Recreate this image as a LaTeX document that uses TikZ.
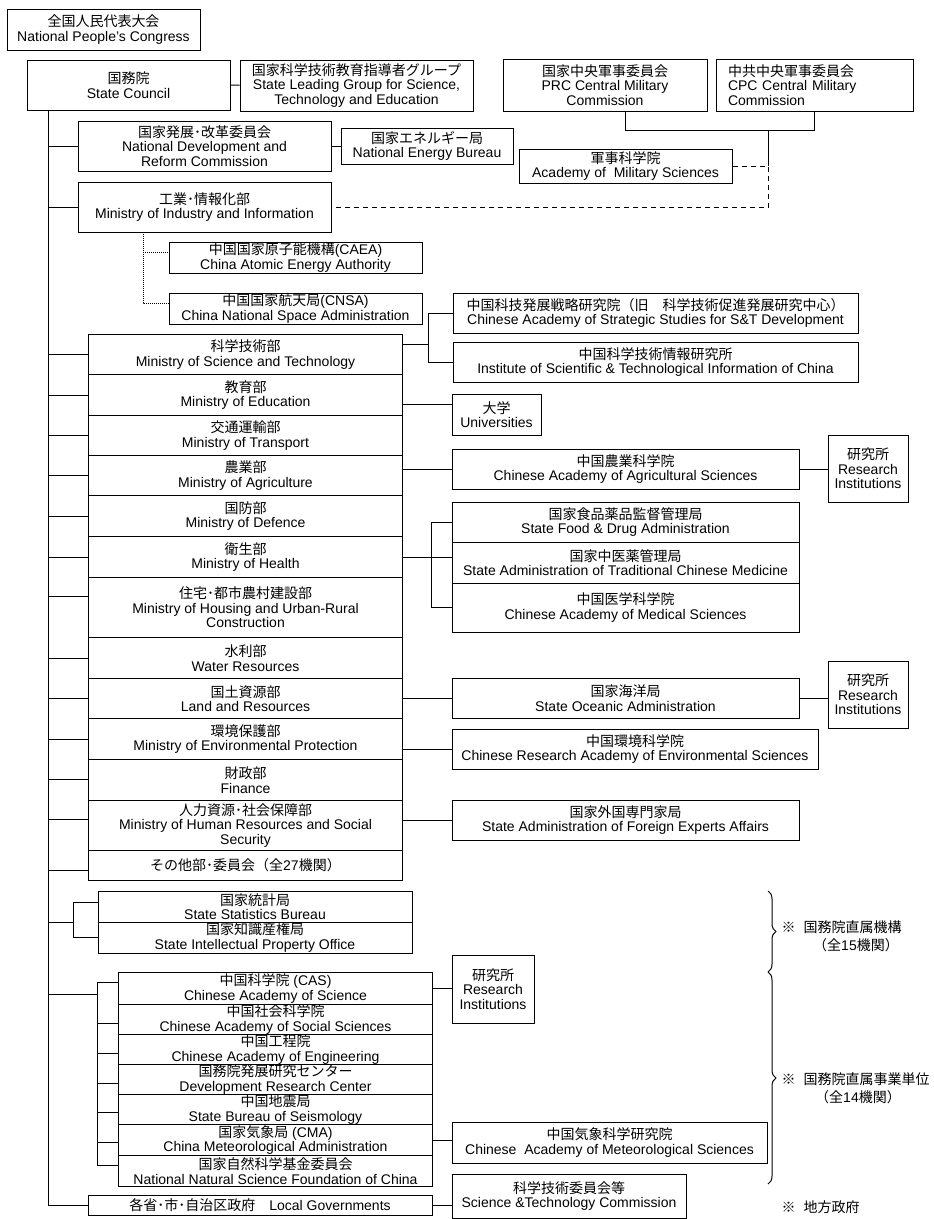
\documentclass[tikz,border=0pt]{standalone}
\usepackage{fontspec}
\setmainfont{Liberation Sans}
\newfontfamily\jpfont{Noto Sans CJK JP}
\newcommand{\jp}[1]{{\jpfont #1}}
\usetikzlibrary{calc,decorations.pathreplacing}

\begin{document}
\begin{tikzpicture}[x=1pt,y=1pt,yscale=-1,xscale=1,line width=1pt,
  box/.style={draw,line width=1pt,inner sep=0pt,align=center,font=\fontsize{14}{14.5}\selectfont},
  row/.style={box,anchor=north west,minimum width=314},
  note/.style={inner sep=0pt,font=\fontsize{14}{14.5}\selectfont},
  dashline/.style={dash pattern=on 5pt off 4pt},
  dotline/.style={dash pattern=on 1pt off 1pt}]
\useasboundingbox (0,0) rectangle (934,1219);

%Shape: Rectangle (top)
\node [box,minimum width=193,minimum height=41] (npc) at (103.5,29.5) {\jp{全国人民代表大会}\\National People’s Congress};
\node [box,minimum width=203,minimum height=50] (sc) at (128.5,85) {\jp{国務院}\\State Council};
\node [box,minimum width=233,minimum height=51] (slg) at (356.5,85.5) {\jp{国家科学技術教育指導者グループ}\\State Leading Group for Science,\\Technology and Education};
\node [box,minimum width=204,minimum height=52] (prc) at (605,85) {\jp{国家中央軍事委員会}\\PRC Central Military\\Commission};
\node [box,align=left,text width=173pt,inner xsep=12pt,minimum height=52] (cpc) at (814.5,85) {\jp{中共中央軍事委員会}\\CPC Central Military\\Commission};
\node [box,minimum width=253,minimum height=50] (ndrc) at (204.5,146) {\jp{国家発展･改革委員会}\\National Development and\\Reform Commission};
\node [box,minimum width=172,minimum height=36] (neb) at (427,146) {\jp{国家エネルギー局}\\National Energy Bureau};
\node [box,minimum width=213,minimum height=34] (ams) at (625.5,166) {\jp{軍事科学院}\\Academy of~ Military Sciences};
\node [box,minimum width=253,minimum height=50] (miit) at (204.5,207) {\jp{工業･情報化部}\\Ministry of Industry and Information};
\node [box,minimum width=253,minimum height=31] (caea) at (295.5,257.5) {\jp{中国国家原子能機構}(CAEA)\\China Atomic Energy Authority};
\node [box,minimum width=253,minimum height=31] (cnsa) at (295.5,308.5) {\jp{中国国家航天局}(CNSA)\\China National Space Administration};
\node [box,minimum width=405,minimum height=40] (casss) at (655.5,313) {\jp{中国科技発展戦略研究院（旧　科学技術促進発展研究中心）}\\Chinese Academy of Strategic Studies for S\&T Development};
\node [box,minimum width=405,minimum height=40] (istic) at (655.5,362) {\jp{中国科学技術情報研究所}\\Institute of Scientific \& Technological Information of China};

%Shape: Rectangle (ministries)
\node [row,minimum height=40] (most) at (88,334) {\jp{科学技術部}\\Ministry of Science and Technology};
\node [row,minimum height=41] (moe) at (88,374) {\jp{教育部}\\Ministry of Education};
\node [row,minimum height=40] (mot) at (88,415) {\jp{交通運輸部}\\Ministry of Transport};
\node [row,minimum height=40] (moa) at (88,455) {\jp{農業部}\\Ministry of Agriculture};
\node [row,minimum height=41] (mod) at (88,495) {\jp{国防部}\\Ministry of Defence};
\node [row,minimum height=41] (moh) at (88,536) {\jp{衛生部}\\Ministry of Health};
\node [row,minimum height=60] (mohurd) at (88,577) {\jp{住宅･都市農村建設部}\\Ministry of Housing and Urban-Rural\\Construction};
\node [row,minimum height=41] (mwr) at (88,637) {\jp{水利部}\\Water Resources};
\node [row,minimum height=40] (mlr) at (88,678) {\jp{国土資源部}\\Land and Resources};
\node [row,minimum height=41] (mep) at (88,718) {\jp{環境保護部}\\Ministry of Environmental Protection};
\node [row,minimum height=41] (mof) at (88,759) {\jp{財政部}\\Finance};
\node [row,minimum height=50] (mohrss) at (88,800) {\jp{人力資源･社会保障部}\\Ministry of Human Resources and Social\\Security};
\node [row,minimum height=30] (others) at (88,850) {\jp{その他部･委員会（全}27\jp{機関）}};

%Shape: Rectangle (right of ministries)
\node [box,minimum width=89,minimum height=41] (uni) at (496.5,414.5) {\jp{大学}\\Universities};
\node [box,minimum width=347,minimum height=40] (caas) at (625.5,469) {\jp{中国農業科学院}\\Chinese Academy of Agricultural Sciences};
\node [box,minimum width=80,minimum height=67] (ri1) at (868,468.5) {\jp{研究所}\\Research\\Institutions};
\node [box,minimum width=347,minimum height=40] (sfda) at (625.5,522) {\jp{国家食品薬品監督管理局}\\State Food \& Drug Administration};
\node [box,minimum width=347,minimum height=41] (satcm) at (625.5,562.5) {\jp{国家中医薬管理局}\\State Administration of Traditional Chinese Medicine};
\node [box,minimum width=347,minimum height=49] (cams) at (625.5,607.5) {\jp{中国医学科学院}\\Chinese Academy of Medical Sciences};
\node [box,minimum width=347,minimum height=40] (soa) at (625.5,698) {\jp{国家海洋局}\\State Oceanic Administration};
\node [box,minimum width=80,minimum height=67] (ri2) at (868,694.5) {\jp{研究所}\\Research\\Institutions};
\node [box,minimum width=366,minimum height=40] (craes) at (635,749) {\jp{中国環境科学院}\\Chinese Research Academy of Environmental Sciences};
\node [box,minimum width=347,minimum height=40] (safea) at (625.5,820) {\jp{国家外国専門家局}\\State Administration of Foreign Experts Affairs};

%Shape: Rectangle (bottom)
\node [box,minimum width=314,minimum height=31] (stat) at (255,906.5) {\jp{国家統計局}\\State Statistics Bureau};
\node [box,minimum width=314,minimum height=31] (ipo) at (255,937.5) {\jp{国家知識産権局}\\State Intellectual Property Office};
\node [row,minimum height=32] (cas) at (118,972) {\jp{中国科学院} (CAS)\\Chinese Academy of Science};
\node [row,minimum height=30] (cass) at (118,1004) {\jp{中国社会科学院}\\Chinese Academy of Social Sciences};
\node [row,minimum height=30] (cae) at (118,1034) {\jp{中国工程院}\\Chinese Academy of Engineering};
\node [row,minimum height=30] (drc) at (118,1064) {\jp{国務院発展研究センター}\\Development Research Center};
\node [row,minimum height=30] (seis) at (118,1094) {\jp{中国地震局}\\State Bureau of Seismology};
\node [row,minimum height=31] (cma) at (118,1124) {\jp{国家気象局} (CMA)\\China Meteorological Administration};
\node [row,minimum height=31] (nsfc) at (118,1155) {\jp{国家自然科学基金委員会}\\National Natural Science Foundation of China};
\node [box,minimum width=82,minimum height=68] (ri3) at (493,989) {\jp{研究所}\\Research\\Institutions};
\node [box,minimum width=315,minimum height=41] (camets) at (609.5,1142.5) {\jp{中国気象科学研究院}\\Chinese~ Academy of Meteorological Sciences};
\node [box,minimum width=344,minimum height=20] (lg) at (260,1205) {\jp{各省･市･自治区政府　}Local Governments};
\node [box,minimum width=234,minimum height=44] (stc) at (569,1196) {\jp{科学技術委員会等}\\Science \&Technology Commission};

% Text Node
\node [note,anchor=west] (n1) at (781,927) {\jp{※}\hspace{8pt}\jp{国務院直属機構}};
\node [note] (n1b) at (856,945) {\jp{（全}15\jp{機関）}};
\node [note,anchor=west] (n2) at (781,1079) {\jp{※}\hspace{8pt}\jp{国務院直属事業単位}};
\node [note] (n2b) at (858,1097) {\jp{（全}14\jp{機関）}};
\node [note,anchor=west] (n3) at (781,1207) {\jp{※}\hspace{8pt}\jp{地方政府}};

%Straight Lines (trunk)
\coordinate (trunk) at (48,110);
\coordinate (statj) at (73,922);
\coordinate (casj) at (97,994);
\draw (trunk) -- (trunk |- lg.west) -- (lg.west);
\draw (ndrc.west) -- (ndrc.west -| trunk);
\draw (miit.west) -- (miit.west -| trunk);
\foreach \n/\s in {most/0,moe/0,mot/0,moa/0,mod/0,moh/0,mohurd/-11,mwr/0,mlr/0,mep/0,mof/-1,mohrss/-6,others/5}{
  \coordinate (c) at ($(\n.west)+(0,\s)$);
  \draw (c) -- (c -| trunk);
}
\draw (trunk |- statj) -- (statj);
\draw ($(stat.west)+(0,-4)$) -| (statj |- ipo.west) -- (ipo.west);
\draw (trunk |- casj) -- (casj);
\draw ($(cas.west -| casj)+(0,-6)$) -- ($(nsfc.west -| casj)+(0,-6)$);
\foreach \n/\s in {cas/-6,cass/4,cae/4,drc/4,seis/3,cma/2,nsfc/-6}{
  \coordinate (c) at ($(\n.west)+(0,\s)$);
  \draw (c) -- (c -| casj);
}

%Straight Lines (side links)
\draw (sc) -- (slg);
\draw (ndrc) -- (neb);
\coordinate (cmcj) at (768,130);
\draw ([xshift=20pt]prc.south) -- ([xshift=20pt]prc.south |- cmcj) -- (cpc.south |- cmcj) -- (cpc.south);
\draw (cmcj) -- (cmcj |- ams.east);
\draw [dashline] (ams.east) -- (cmcj |- ams.east) -- (cmcj |- miit.east) -- (miit.east);
\coordinate (miitd) at (143,232);
\draw [dotline] (miitd) |- ($(caea.west)+(0,-5.5)$);
\draw [dotline] (miitd) |- ($(cnsa.west)+(0,-5.5)$);
\coordinate (mostj) at (428,344);
\draw (most.east |- mostj) -- (mostj);
\draw (casss.west) -| (mostj);
\draw (istic.west) -| (mostj);
\coordinate (unij) at ($(uni.west)+(0,-10)$);
\draw (unij -| moe.east) -- (unij);
\draw (caas.west -| moa.east) -- (caas.west);
\draw (caas.east) -- (caas.east -| ri1.west);
\coordinate (mohj) at (431,556);
\draw (moh.east) -- (moh.east -| satcm.west);
\draw (sfda.west) -| (mohj |- cams.west) -- (cams.west);
\draw (soa.west -| mlr.east) -- (soa.west);
\draw (soa.east) -- (soa.east -| ri2.west);
\draw (craes.west -| mep.east) -- (craes.west);
\draw (safea.west -| mohrss.east) -- (safea.west);
\draw (cas.east) -- (cas.east -| ri3.west);
\draw (cma.east) -- (cma.east -| camets.west);
\draw (lg.east) -- (lg.east -| stc.west);

%Curve Lines (braces)
\coordinate (b1t) at (768,891);
\coordinate (b1b) at (768,972);
\coordinate (b2b) at (768,1184);
\draw [decorate,decoration={brace,amplitude=8pt}] (b1t) -- (b1b);
\draw [decorate,decoration={brace,amplitude=8pt}] (b1b) -- (b2b);

\end{tikzpicture}
\end{document}
